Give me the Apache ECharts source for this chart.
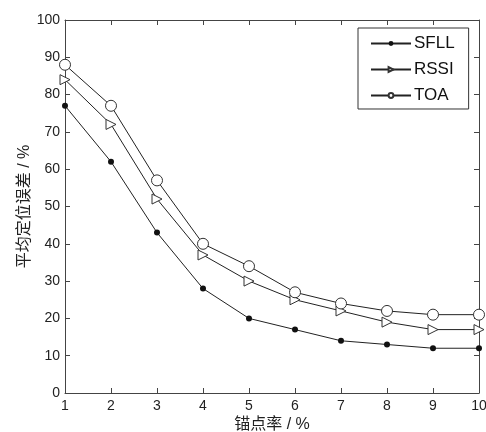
<!DOCTYPE html>
<html>
<head>
<meta charset="utf-8">
<style>
html,body{margin:0;padding:0;background:#fff;}
#c{width:486px;height:432px;}
</style>
<script src="https://cdn.jsdelivr.net/npm/echarts@6/dist/echarts.min.js"></script>
</head>
<body>
<div id="c"></div>
<script>
var xValues = [1, 2, 3, 4, 5, 6, 7, 8, 9, 10];
var sfll = [77, 62, 43, 28, 20, 17, 14, 13, 12, 12];
var rssi = [84, 72, 52, 37, 30, 25, 22, 19, 17, 17];
var toa  = [88, 77, 57, 40, 34, 27, 24, 22, 21, 21];
var seriesNames = ['SFLL', 'RSSI', 'TOA'];
var xTitle = '锚点率 / %';
var yTitle = '平均定位误差 / %';

function pairs(arr){ return xValues.map(function(x,i){ return [x, arr[i]]; }); }

var font = '"Liberation Sans", Arial, "Noto Sans CJK SC", sans-serif';
var axisCol = '#444';
var lineCol = '#222';

function axisLine(){ return {show:true, onZero:false, lineStyle:{color:axisCol, width:1}}; }
function axisTick(){ return {show:true, inside:true, length:5, lineStyle:{color:axisCol, width:1}}; }
function blankLabel(){ return {show:true, formatter:function(){ return ''; }}; }

var chart = echarts.init(document.getElementById('c'), null, {renderer:'canvas'});
chart.setOption({
  backgroundColor:'#fff',
  animation:false,
  textStyle:{fontFamily:font},
  grid:{left:65, right:7, top:20, bottom:39, containLabel:false, outerBoundsMode:'none'},
  legend:{
    orient:'vertical',
    left:358, top:28,
    padding:[7,14,5,12],
    itemGap:9,
    itemWidth:40, itemHeight:6,
    borderColor:'#333', borderWidth:1,
    backgroundColor:'#fff',
    textStyle:{fontSize:17, color:'#111', fontFamily:font, padding:[0,0,0,-2]},
    data:seriesNames
  },
  xAxis:[
    {type:'value', min:1, max:10, interval:1, position:'bottom',
      name:xTitle, nameLocation:'middle', nameGap:24, nameMoveOverlap:false,
      nameTextStyle:{fontSize:16, color:'#222', fontFamily:font},
      axisLine:axisLine(), axisTick:axisTick(), splitLine:{show:false},
      axisLabel:{fontSize:14, color:'#222', margin:6}},
    {type:'value', min:1, max:10, interval:1, position:'top',
      axisLine:axisLine(), axisTick:axisTick(), splitLine:{show:false},
      axisLabel:blankLabel()}
  ],
  yAxis:[
    {type:'value', min:0, max:100, interval:10, position:'left',
      name:yTitle, nameLocation:'middle', nameGap:32, nameMoveOverlap:false,
      nameTextStyle:{fontSize:16, color:'#222', fontFamily:font},
      axisLine:axisLine(), axisTick:axisTick(), splitLine:{show:false},
      axisLabel:{fontSize:14, color:'#222', margin:5}},
    {type:'value', min:0, max:100, interval:10, position:'right',
      axisLine:axisLine(), axisTick:axisTick(), splitLine:{show:false},
      axisLabel:blankLabel()}
  ],
  series:[
    {name:'SFLL', type:'line', data:pairs(sfll), symbol:'circle', symbolSize:6,
      lineStyle:{color:lineCol, width:1}, itemStyle:{color:'#111', borderColor:'#111', borderWidth:0}},
    {name:'RSSI', type:'line', data:pairs(rssi), symbol:'triangle', symbolSize:10, symbolRotate:-90,
      lineStyle:{color:lineCol, width:1}, itemStyle:{color:'#fff', borderColor:'#333', borderWidth:1}},
    {name:'TOA', type:'line', data:pairs(toa), symbol:'circle', symbolSize:11,
      lineStyle:{color:lineCol, width:1}, itemStyle:{color:'#fff', borderColor:'#333', borderWidth:1}}
  ]
});
</script>
</body>
</html>
